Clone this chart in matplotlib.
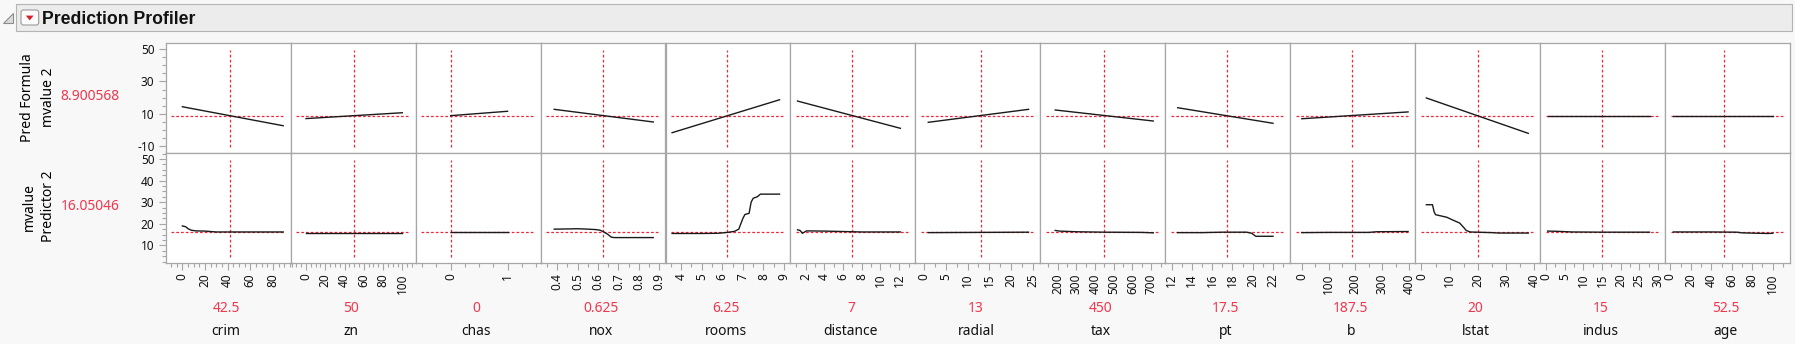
import matplotlib
matplotlib.use("Agg")
import matplotlib.pyplot as plt
from matplotlib.patches import Rectangle, Polygon, FancyBboxPatch
from matplotlib.ticker import MultipleLocator

plt.rcParams['font.family'] = ['Noto Sans', 'DejaVu Sans']
plt.rcParams['axes.unicode_minus'] = False

factors = ['crim', 'zn', 'chas', 'nox', 'rooms', 'distance', 'radial',
           'tax', 'pt', 'b', 'lstat', 'indus', 'age']
settings = [42.5, 50, 0, 0.625, 6.25, 7, 13, 450, 17.5, 187.5, 20, 15, 52.5]
setting_labels = ['42.5', '50', '0', '0.625', '6.25', '7', '13', '450',
                  '17.5', '187.5', '20', '15', '52.5']

# axis ranges and ticks of each factor axis
x_limits = [(-14.7, 95.6), (-16.0, 113.8), (-0.617, 1.58), (0.318, 0.931),
            (3.24, 9.31), (0.376, 13.73), (-1.95, 26.7), (107.6, 775.3),
            (11.38, 23.7), (-42.9, 423.5), (-2.24, 42.2), (-1.55, 31.9),
            (-5.07, 116.9)]
x_ticks = [[0, 20, 40, 60, 80], [0, 20, 40, 60, 80, 100], [0, 1],
           [0.4, 0.5, 0.6, 0.7, 0.8, 0.9], [4, 5, 6, 7, 8, 9],
           [2, 4, 6, 8, 10, 12], [0, 5, 10, 15, 20, 25],
           [200, 300, 400, 500, 600, 700], [12, 14, 16, 18, 20, 22],
           [0, 100, 200, 300, 400], [0, 10, 20, 30, 40],
           [0, 5, 10, 15, 20, 25, 30], [0, 20, 40, 60, 80, 100]]
x_minor = [5, 5, 0.25, 0.05, 0.5, 1, 2.5, 50, 1, 50, 5, 2.5, 10]

# response 1: Pred Formula mvalue 2 (linear)
pred_formula = 8.900568
lin_x_lo = [0.006, 0, 0, 0.385, 3.561, 1.13, 1, 187, 12.6, 0.32, 1.73, 0.46, 2.9]
lin_x_hi = [88.98, 100, 1, 0.871, 8.78, 12.13, 24, 711, 22, 396.9, 37.97, 27.74, 100]
lin_y_lo = [14.4, 7.1, 8.9, 12.8, -1.6, 17.9, 4.8, 12.4, 13.8, 7.0, 19.8, 8.9, 8.9]
lin_y_hi = [2.7, 10.7, 11.6, 5.0, 18.7, 1.1, 12.8, 5.6, 4.2, 11.2, -2.0, 8.9, 8.9]

# response 2: mvalue Predictor 2 (tree-like profile)
predictor = 16.05046
crim_x = [0.006, 3, 5, 8, 12, 20, 30, 88.98]
crim_y = [19.0, 18.6, 17.7, 17.0, 16.7, 16.6, 16.2, 16.2]
zn_x = [0, 100]
zn_y = [15.9, 15.9]
chas_x = [0, 1]
chas_y = [16.3, 16.3]
nox_x = [0.385, 0.45, 0.50, 0.55, 0.59, 0.61, 0.625, 0.645, 0.665, 0.68, 0.871]
nox_y = [17.5, 17.6, 17.7, 17.5, 17.3, 17.0, 16.4, 15.3, 13.8, 13.6, 13.6]
rooms_x = [3.561, 5.0, 5.8, 6.25, 6.6, 6.8, 6.9, 7.0, 7.1, 7.3, 7.4, 7.5, 7.7, 7.85, 8.78]
rooms_y = [15.5, 15.5, 15.6, 16.0, 16.5, 17.5, 20.0, 22.5, 24.3, 24.8, 30.0, 31.8, 32.5, 33.7, 33.7]
distance_x = [1.13, 1.4, 1.65, 2.1, 4, 6, 8, 12.13]
distance_y = [17.2, 16.9, 15.6, 16.7, 16.6, 16.4, 16.2, 16.2]
radial_x = [1, 24]
radial_y = [15.9, 16.1]
tax_x = [187, 210, 300, 450, 650, 711]
tax_y = [16.9, 16.6, 16.3, 16.1, 16.0, 15.8]
pt_x = [12.6, 15, 17, 19.4, 19.9, 20.3, 22]
pt_y = [15.9, 15.9, 16.1, 16.1, 15.6, 14.2, 14.2]
b_x = [0.32, 100, 250, 280, 396.9]
b_y = [15.9, 16.0, 16.0, 16.3, 16.4]
lstat_x = [1.73, 3.9, 4.5, 5.0, 9.0, 11, 13.6, 15.0, 15.9, 17.3, 25, 27.5, 37.97]
lstat_y = [28.8, 28.8, 25.5, 24.2, 23.0, 21.8, 20.3, 18.3, 16.9, 16.2, 15.9, 15.7, 15.7]
indus_x = [0.46, 3, 7, 15, 27.74]
indus_y = [16.6, 16.5, 16.2, 16.1, 16.1]
age_x = [2.9, 40, 65, 70, 85, 95, 100]
age_y = [16.2, 16.2, 16.1, 15.8, 15.6, 15.5, 15.6]

tree_x = [crim_x, zn_x, chas_x, nox_x, rooms_x, distance_x, radial_x,
          tax_x, pt_x, b_x, lstat_x, indus_x, age_x]
tree_y = [crim_y, zn_y, chas_y, nox_y, rooms_y, distance_y, radial_y,
          tax_y, pt_y, b_y, lstat_y, indus_y, age_y]

# ---- styling ----
W, H = 1795, 344
RED = '#f0283c'
RED_TXT = '#f0384e'
FRAME = '#a6a6a6'

fig = plt.figure(figsize=(W / 100, H / 100), dpi=100, facecolor='#f8f8f8')

# overlay in pixel units for header and labels
ov = fig.add_axes([0, 0, 1, 1])
ov.set_xlim(0, W)
ov.set_ylim(H, 0)
ov.axis('off')
ov.patch.set_visible(False)

ov.add_patch(Rectangle((16, 4.3), 1775.7, 26.4, fc='#ececec', ec='#b4b4b4', lw=0.8))
ov.add_patch(Polygon([(13.3, 12.7), (13.3, 22.7), (3.3, 22.7)], closed=True,
                     fc='#dcdcdc', ec='#8c8c8c', lw=0.8))
ov.add_patch(FancyBboxPatch((21, 10), 17.7, 15, boxstyle='round,pad=0,rounding_size=2.5',
                            fc='#fbfbfb', ec='#9a9a9a', lw=0.8))
ov.add_patch(Polygon([(25.8, 15.6), (33.6, 15.6), (29.7, 20.4)], closed=True,
                     fc='#d4212d', ec='none'))
ov.text(41.5, 24, 'Prediction Profiler', fontsize=12.7, fontweight='bold',
        family=['Liberation Sans', 'DejaVu Sans'],
        va='baseline', ha='left', color='#111111')

# response labels
ov.text(28, 97.5, 'Pred Formula', rotation=90, fontsize=10, ha='center', va='center')
ov.text(49, 97.5, 'mvalue 2', rotation=90, fontsize=10, ha='center', va='center')
ov.text(120, 96.7, f'{pred_formula:.6f}', color=RED_TXT, fontsize=10, ha='right', va='center')
ov.text(29, 206.6, 'mvalue', rotation=90, fontsize=10, ha='center', va='center')
ov.text(49, 206.6, 'Predictor 2', rotation=90, fontsize=10, ha='center', va='center')
ov.text(120, 206.6, f'{predictor:.5f}', color=RED_TXT, fontsize=10, ha='right', va='center')

left0, pw = 165.7, 124.95
top, mid, bot = 43.3, 153.3, 263.3


def style_frame(ax):
    for s in ax.spines.values():
        s.set_color(FRAME)
        s.set_linewidth(0.9)
    ax.tick_params(which='both', direction='out', color=FRAME, width=0.8,
                   labelsize=8.5, labelcolor='#111111')
    ax.tick_params(which='major', length=5)
    ax.tick_params(which='minor', length=3)


for i, name in enumerate(factors):
    x0 = left0 + pw * i
    up = fig.add_axes([x0 / W, 1 - mid / H, pw / W, (mid - top) / H])
    lo = fig.add_axes([x0 / W, 1 - bot / H, pw / W, (bot - mid) / H])
    for ax in (up, lo):
        ax.set_facecolor('white')
        ax.set_xlim(*x_limits[i])
        style_frame(ax)
        ax.axvline(settings[i], ymin=0.06, ymax=0.94, color=RED, lw=0.9,
                   dashes=(2.2, 1.8), zorder=1)
        ax.axhline(pred_formula if ax is up else predictor, xmin=0.045, xmax=0.955,
                   color=RED, lw=0.9, dashes=(2.2, 1.6), zorder=1)
    up.set_ylim(-14.3, 53.5)
    lo.set_ylim(1.7, 52.6)

    up.plot([lin_x_lo[i], lin_x_hi[i]], [lin_y_lo[i], lin_y_hi[i]],
            color='#1a1a1a', lw=1.0, zorder=2)
    lo.plot(tree_x[i], tree_y[i], color='#1a1a1a', lw=1.0, zorder=2)

    up.set_xticks([])
    up.tick_params(axis='x', which='both', bottom=False)
    lo.set_xticks(x_ticks[i], labels=[f'{t:g}' for t in x_ticks[i]], rotation=90)
    lo.xaxis.set_minor_locator(MultipleLocator(x_minor[i]))
    lo.tick_params(axis='x', which='major', pad=2)

    if i == 0:
        up.set_yticks([-10, 10, 30, 50])
        up.yaxis.set_minor_locator(MultipleLocator(5))
        lo.set_yticks([10, 20, 30, 40, 50])
        lo.yaxis.set_minor_locator(MultipleLocator(2.5))
        for ax in (up, lo):
            ax.tick_params(axis='y', which='major', pad=3)
    else:
        for ax in (up, lo):
            ax.set_yticks([])
            ax.tick_params(axis='y', which='both', left=False)

    cx = x0 + pw / 2 - 2
    ov.text(cx, 312.3, setting_labels[i], color=RED_TXT, fontsize=10,
            ha='center', va='baseline')
    ov.text(cx, 335, name, color='#111111', fontsize=10, ha='center', va='baseline')

fig.savefig('out.png', dpi=100, facecolor=fig.get_facecolor())
